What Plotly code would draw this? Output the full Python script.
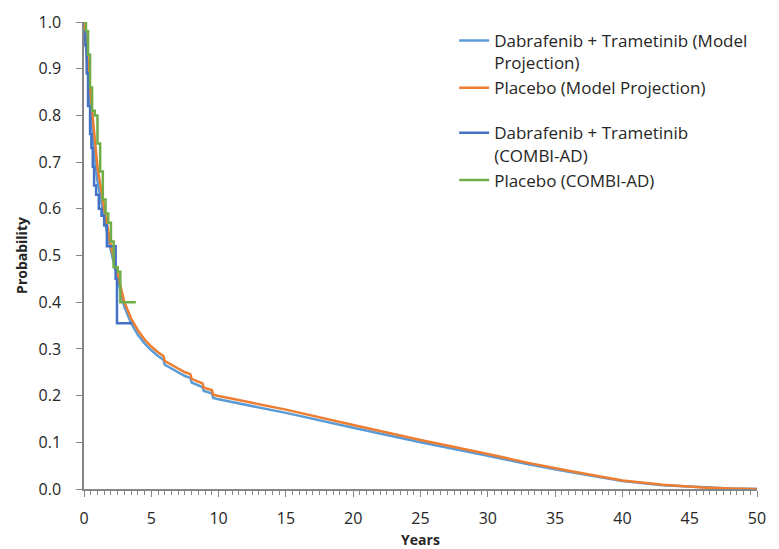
import plotly.graph_objects as go

# ---- Data ----
# Model projections (years, probability)
dt_model_t = [0, 0.25, 0.5, 0.75, 1.0, 1.5, 2.0, 2.5, 2.8, 3.0, 3.5, 4.0, 4.5, 5.0, 5.5, 5.9, 6.0, 6.5, 7.0, 7.5, 7.9, 8.0, 8.8, 8.9, 9.5, 9.6, 10, 12, 15, 20, 25, 30, 33, 36, 40, 43, 46, 48, 50]
dt_model_p = [1.0, 0.90, 0.80, 0.72, 0.66, 0.58, 0.51, 0.45, 0.41, 0.39, 0.355, 0.330, 0.312, 0.297, 0.285, 0.277, 0.266, 0.258, 0.250, 0.242, 0.238, 0.228, 0.218, 0.210, 0.205, 0.195, 0.192, 0.181, 0.163, 0.131, 0.100, 0.071, 0.053, 0.037, 0.017, 0.008, 0.003, 0.001, 0.0]

pl_model_t = [0, 0.25, 0.5, 0.75, 1.0, 1.5, 2.0, 2.5, 2.8, 3.0, 3.5, 4.0, 4.5, 5.0, 5.5, 5.9, 6.0, 6.5, 7.0, 7.5, 7.9, 8.0, 8.8, 8.9, 9.5, 9.6, 10, 12, 15, 20, 25, 30, 33, 36, 40, 43, 46, 48, 50]
pl_model_p = [1.0, 0.93, 0.84, 0.76, 0.69, 0.60, 0.52, 0.46, 0.42, 0.40, 0.365, 0.340, 0.320, 0.305, 0.293, 0.285, 0.274, 0.266, 0.258, 0.250, 0.246, 0.236, 0.226, 0.217, 0.212, 0.202, 0.199, 0.188, 0.170, 0.137, 0.105, 0.075, 0.056, 0.039, 0.018, 0.009, 0.003, 0.001, 0.0]

# COMBI-AD Kaplan-Meier
dt_km_t = [0, 0.1, 0.2, 0.3, 0.45, 0.55, 0.65, 0.75, 0.9, 1.1, 1.3, 1.5, 1.7, 2.35, 2.45, 3.6]
dt_km_p = [0.98, 0.95, 0.89, 0.82, 0.76, 0.73, 0.69, 0.65, 0.63, 0.60, 0.585, 0.565, 0.52, 0.45, 0.355, 0.355]

pl_km_t = [0, 0.15, 0.3, 0.45, 0.6, 0.8, 1.0, 1.2, 1.4, 1.6, 1.8, 2.0, 2.2, 2.5, 2.7, 3.85]
pl_km_p = [1.0, 0.98, 0.93, 0.86, 0.81, 0.80, 0.74, 0.68, 0.62, 0.59, 0.57, 0.53, 0.475, 0.465, 0.40, 0.40]

names = ["Dabrafenib + Trametinib (Model<br>Projection)",
         "Placebo (Model Projection)",
         "Dabrafenib + Trametinib<br>(COMBI-AD)",
         "Placebo (COMBI-AD)"]
colors = ["#5B9BD5", "#ED7D31", "#4472C4", "#70AD47"]

x_ticks = [0, 5, 10, 15, 20, 25, 30, 35, 40, 45, 50]
y_ticks = [0.0, 0.1, 0.2, 0.3, 0.4, 0.5, 0.6, 0.7, 0.8, 0.9, 1.0]

fig = go.Figure()
fig.add_trace(go.Scatter(x=dt_model_t, y=dt_model_p, mode="lines", name=names[0],
                         line=dict(color=colors[0], width=2.5), legendgroup="model"))
fig.add_trace(go.Scatter(x=pl_model_t, y=pl_model_p, mode="lines", name=names[1],
                         line=dict(color=colors[1], width=2.5), legendgroup="model"))
fig.add_trace(go.Scatter(x=dt_km_t, y=dt_km_p, mode="lines", name=names[2],
                         line=dict(color=colors[2], width=2.5, shape="hv"), legendgroup="km"))
fig.add_trace(go.Scatter(x=pl_km_t, y=pl_km_p, mode="lines", name=names[3],
                         line=dict(color=colors[3], width=2.5, shape="hv"), legendgroup="km"))

axis_color = "#868686"
fig.update_layout(
    width=779, height=549,
    margin=dict(l=84, r=22, t=22, b=60),
    paper_bgcolor="white", plot_bgcolor="white",
    font=dict(family="Open Sans, sans-serif", size=16, color="#262626"),
    legend=dict(x=0.55, y=0.998, xanchor="left", yanchor="top",
                bgcolor="rgba(0,0,0,0)", valign="top", tracegroupgap=20,
                font=dict(size=17, color="#262626")),
    xaxis=dict(range=[0, 50], tickvals=x_ticks, ticks="outside", ticklen=6, tickcolor=axis_color,
               showline=True, linecolor=axis_color, linewidth=1.5, showgrid=False, zeroline=False,
               ticklabelstandoff=8, automargin=False,
               title=dict(text="<b>Years</b>", font=dict(size=14), standoff=10),
               tickfont=dict(size=16),
               minor=dict(dtick=0.5, ticks="outside", ticklen=4, tickcolor=axis_color, showgrid=False)),
    yaxis=dict(range=[0, 1.0], tickvals=y_ticks, tickformat=".1f", ticks="outside", ticklen=6,
               tickcolor=axis_color, showline=True, linecolor=axis_color, linewidth=1.5,
               showgrid=False, zeroline=False, ticklabelstandoff=12, automargin=False,
               title=dict(text="<b>Probability</b>", font=dict(size=14), standoff=8),
               tickfont=dict(size=16)),
)

fig.write_html("out.html")
